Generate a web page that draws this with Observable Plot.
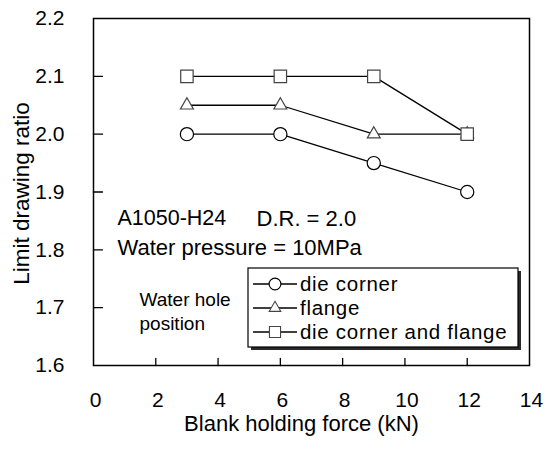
<!DOCTYPE html>
<html>
<head>
<meta charset="utf-8">
<script src="https://cdn.jsdelivr.net/npm/d3@7"></script>
<script src="https://cdn.jsdelivr.net/npm/@observablehq/plot@0.6"></script>
<style>
  html, body { margin: 0; padding: 0; background: #fff; overflow: hidden; }
  #chart svg { display: block; }
</style>
</head>
<body>
<div id="chart"></div>
<script>
// ---- data ----
const forces = [3, 6, 9, 12];
const dieCorner = [2.00, 2.00, 1.95, 1.90];
const flange = [2.05, 2.05, 2.00, 2.00];
const dieCornerAndFlange = [2.10, 2.10, 2.10, 2.00];
const seriesNames = ["die corner", "flange", "die corner and flange"];
const seriesSymbols = ["circle", "triangle", "square"];
const xTickValues = [0, 2, 4, 6, 8, 10, 12, 14];
const xTickLabels = ["0", "2", "4", "6", "8", "10", "12", "14"];
const yTickValues = [1.6, 1.7, 1.8, 1.9, 2.0, 2.1, 2.2];
const yTickLabels = ["1.6", "1.7", "1.8", "1.9", "2.0", "2.1", "2.2"];
const xLabel = "Blank holding force (kN)";
const yLabel = "Limit drawing ratio";
const noteLine1a = "A1050-H24";
const noteLine1b = "D.R. = 2.0";
const noteLine2 = "Water pressure = 10MPa";
const holeLabel1 = "Water hole";
const holeLabel2 = "position";

const seriesValues = [dieCorner, flange, dieCornerAndFlange];
const rows = [];
seriesValues.forEach((vals, s) => vals.forEach((v, i) => rows.push({series: seriesNames[s], x: forces[i], y: v})));

const symR = {circle: 6.6, triangle: 4.8, square: 7.0};
const symStroke = {circle: "#000", triangle: "#444", square: "#444"};

const tickUp = {draw(ctx, l) { ctx.moveTo(0, 0); ctx.lineTo(0, -l); }};
const tickRight = {draw(ctx, l) { ctx.moveTo(0, 0); ctx.lineTo(l, 0); }};

const font = "'Liberation Sans', Arial, Helvetica, sans-serif";
const txt = {fill: "#000", lineAnchor: "middle"};

const plot = Plot.plot({
  width: 544,
  height: 451,
  marginLeft: 93,
  marginRight: 15,
  marginTop: 18,
  marginBottom: 86,
  x: {domain: [0, 14], axis: null},
  y: {domain: [1.6, 2.2], axis: null},
  style: {fontFamily: font, background: "#fff", color: "#000"},
  marks: [
    Plot.frame({stroke: "#000", strokeWidth: 1.5}),
    Plot.vector(xTickValues.slice(1, -1), {x: d => d, frameAnchor: "bottom", length: 7, anchor: "start", shape: tickUp, stroke: "#000", strokeWidth: 1.3}),
    Plot.vector(yTickValues.slice(1, -1), {y: d => d, frameAnchor: "left", length: 9, anchor: "start", shape: tickRight, stroke: "#000", strokeWidth: 1.3}),
    Plot.text(xTickValues, {...txt, x: d => d, text: (d, i) => xTickLabels[i], frameAnchor: "bottom", textAnchor: "middle", dy: 35, dx: 2, fontSize: 21}),
    Plot.text(yTickValues, {...txt, y: d => d, text: (d, i) => yTickLabels[i], frameAnchor: "left", dx: -29, textAnchor: "end", fontSize: 21}),
    Plot.text([xLabel], {...txt, text: d => d, frameAnchor: "bottom", textAnchor: "middle", dy: 58, dx: -10, fontSize: 22}),
    Plot.text([yLabel], {...txt, text: d => d, frameAnchor: "left", textAnchor: "middle", dx: -72, dy: 1.5, rotate: -90, fontSize: 22.5}),
    Plot.text([noteLine1a], {...txt, text: d => d, frameAnchor: "top-left", dx: 24, dy: 200, textAnchor: "start", fontSize: 21.5}),
    Plot.text([noteLine1b], {...txt, text: d => d, frameAnchor: "top-left", dx: 163, dy: 200, textAnchor: "start", fontSize: 22}),
    Plot.text([noteLine2], {...txt, text: d => d, frameAnchor: "top-left", dx: 24, dy: 229, textAnchor: "start", fontSize: 22, letterSpacing: "0.8px"}),
    Plot.text([holeLabel1], {...txt, text: d => d, frameAnchor: "top-left", dx: 46, dy: 281, textAnchor: "start", fontSize: 19}),
    Plot.text([holeLabel2], {...txt, text: d => d, frameAnchor: "top-left", dx: 46, dy: 305, textAnchor: "start", fontSize: 19}),
    Plot.line(rows, {x: "x", y: "y", z: "series", stroke: "#000", strokeWidth: 1.3}),
    ...seriesNames.map((name, s) => Plot.dot(rows.filter(r => r.series === name), {
      x: "x", y: "y", symbol: seriesSymbols[s], r: symR[seriesSymbols[s]],
      fill: "#fff", stroke: symStroke[seriesSymbols[s]], strokeWidth: 1.2
    }))
  ]
});

document.getElementById("chart").appendChild(plot);

// ---- legend box (drawn into the same svg) ----
const svg = d3.select(plot);
const lg = svg.append("g").attr("class", "legend").attr("text-anchor", "start");
const box = {x: 248, y: 268, w: 270, h: 79};
lg.append("rect").attr("x", box.x + 3).attr("y", box.y + 3).attr("width", box.w).attr("height", box.h).attr("fill", "#2a2a2a");
lg.append("rect").attr("x", box.x).attr("y", box.y).attr("width", box.w).attr("height", box.h).attr("fill", "#fff").attr("stroke", "#000").attr("stroke-width", 1.2);
const symMap = {circle: d3.symbolCircle, triangle: d3.symbolTriangle, square: d3.symbolSquare};
const rowY = [284, 308, 332];
seriesNames.forEach((name, s) => {
  const y = rowY[s];
  const sym = seriesSymbols[s];
  lg.append("line").attr("x1", 253).attr("x2", 297).attr("y1", y).attr("y2", y).attr("stroke", "#000").attr("stroke-width", 1.3);
  lg.append("path").attr("transform", `translate(275,${y})`)
    .attr("d", d3.symbol(symMap[sym], Math.PI * symR[sym] * symR[sym] * 0.8)())
    .attr("fill", "#fff").attr("stroke", symStroke[sym]).attr("stroke-width", 1.1);
  lg.append("text").attr("x", 300).attr("y", y).attr("dy", "0.35em").attr("text-anchor", "start")
    .attr("font-size", 20.5).attr("letter-spacing", "0.7px").attr("font-family", font).attr("fill", "#000").text(name);
});
</script>
</body>
</html>
